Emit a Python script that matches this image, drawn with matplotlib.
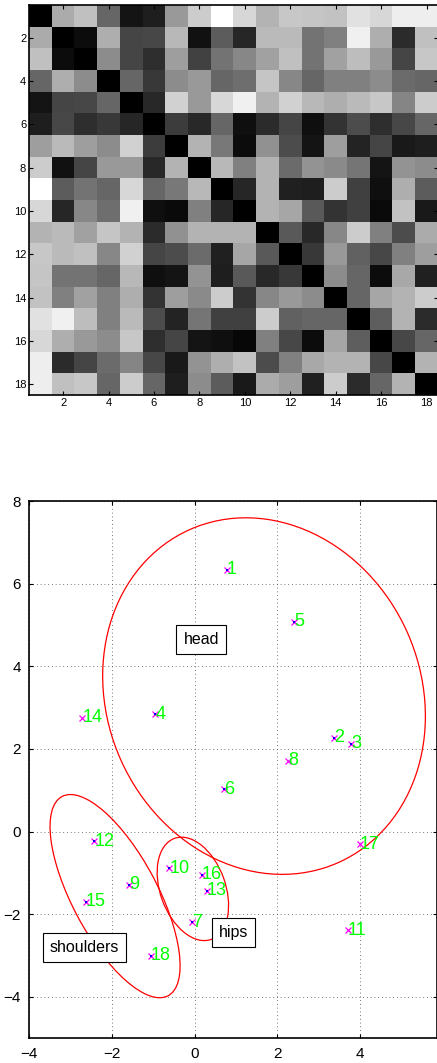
import numpy as np
import matplotlib
matplotlib.use('Agg')
import matplotlib.pyplot as plt
from matplotlib.patches import Ellipse

plt.rcParams['font.family'] = ['Liberation Sans', 'DejaVu Sans']

# dissimilarity matrix (gray levels, 0 = black)
D = [
    [0, .67, .75, .40, .08, .12, .60, .80, 1.0, .84, .70, .78, .77, .76, .88, .84, .93, .93],
    [.67, 0, .05, .68, .27, .28, .72, .07, .36, .15, .73, .73, .45, .50, .94, .68, .17, .75],
    [.75, .05, 0, .55, .27, .18, .62, .26, .45, .53, .63, .75, .45, .63, .74, .60, .27, .78],
    [.40, .68, .55, 0, .40, .22, .55, .60, .40, .43, .77, .53, .40, .50, .50, .55, .42, .40],
    [.08, .27, .28, .40, 0, .16, .82, .60, .84, .94, .70, .82, .72, .68, .73, .78, .52, .80],
    [.12, .28, .18, .22, .15, 0, .24, .16, .40, .06, .17, .27, .06, .20, .30, .18, .28, .40],
    [.62, .73, .62, .55, .82, .24, 0, .70, .47, .05, .57, .30, .08, .62, .14, .27, .10, .12],
    [.80, .07, .27, .60, .60, .16, .70, 0, .72, .50, .70, .42, .58, .54, .46, .08, .58, .55],
    [1.0, .36, .45, .40, .84, .40, .47, .72, 0, .15, .70, .13, .12, .80, .25, .06, .68, .36],
    [.84, .15, .53, .43, .94, .06, .04, .50, .15, 0, .70, .65, .35, .20, .25, .04, .76, .10],
    [.70, .73, .63, .77, .70, .17, .57, .70, .70, .70, 0, .35, .16, .53, .80, .50, .30, .67],
    [.78, .73, .75, .53, .82, .27, .30, .42, .13, .65, .35, 0, .22, .60, .38, .28, .50, .62],
    [.77, .45, .45, .40, .72, .06, .08, .58, .12, .35, .16, .22, 0, .55, .40, .05, .66, .13],
    [.76, .50, .63, .50, .68, .20, .62, .54, .80, .20, .53, .60, .55, 0, .40, .65, .70, .80],
    [.88, .94, .74, .50, .73, .30, .14, .46, .25, .25, .80, .38, .40, .40, 0, .37, .70, .17],
    [.84, .68, .60, .55, .78, .18, .27, .08, .06, .03, .50, .28, .05, .65, .37, 0, .28, .40],
    [.93, .17, .27, .42, .52, .28, .10, .58, .68, .76, .30, .50, .66, .70, .70, .28, 0, .70],
    [.93, .75, .78, .40, .80, .40, .12, .55, .36, .10, .67, .62, .13, .80, .17, .40, .70, 0],
]

# embedded points
xs = [0.78, 3.38, 3.78, -0.95, 2.40, 0.72, -0.05, 2.27, -1.58, -0.61, 3.70, -2.42, 0.29, -2.71, -2.62, 0.18, 4.00, -1.05]
ys = [6.34, 2.27, 2.13, 2.84, 5.08, 1.02, -2.19, 1.72, -1.28, -0.88, -2.39, -0.23, -1.43, 2.76, -1.70, -1.04, -0.30, -3.00]
blue_ids = [1, 2, 3, 4, 5, 6, 7, 9, 10, 12, 13, 15, 16, 18]

# cluster ellipses: center x, center y, width, height, angle
ell_cx = [1.68, -1.92, -0.04]
ell_cy = [3.28, -1.56, -1.385]
ell_w = [8.82, 5.46, 2.60]
ell_h = [7.58, 2.06, 1.575]
ell_ang = [-66, -62, -70]

labels = ['head', 'shoulders', 'hips']
lab_x = [0.16, -2.66, 0.94]
lab_y = [4.65, -2.81, -2.44]

fig = plt.figure(figsize=(4.37, 10.63), dpi=100)

# --- matrix image ---
ax1 = fig.add_axes([29 / 437, 1 - 395 / 1063, 409 / 437, 390 / 1063])
ax1.imshow(np.array(D), cmap='gray', vmin=0, vmax=1, aspect='auto',
           interpolation='nearest', extent=(0.5, 18.5, 18.5, 0.5))
ticks = list(range(2, 19, 2))
ax1.set_xticks(ticks)
ax1.set_yticks(ticks)
ax1.tick_params(direction='in', length=3, width=0.8, labelsize=8, pad=2,
                top=True, right=True)

# --- scatter plot ---
ax2 = fig.add_axes([29 / 437, 1 - 1038.3 / 1063, 408 / 437, 537.3 / 1063])
for i, e in enumerate(ell_cx):
    ax2.add_patch(Ellipse((ell_cx[i], ell_cy[i]), ell_w[i], ell_h[i], angle=ell_ang[i],
                          fill=False, edgecolor='red', lw=0.9, zorder=3))
ax2.plot(xs, ys, 'x', color='magenta', ms=5, mew=0.9, zorder=4)
ax2.plot([xs[i - 1] for i in blue_ids], [ys[i - 1] for i in blue_ids], 's',
         color='blue', ms=2, mew=0, zorder=5)
for i in range(len(xs)):
    ax2.text(xs[i], ys[i], str(i + 1), color='#00ff00', fontsize=13,
             ha='left', va='center', zorder=6)
for i, t in enumerate(labels):
    ax2.text(lab_x[i], lab_y[i], t, fontsize=11.5, ha='center', va='center', zorder=7,
             bbox=dict(boxstyle='square,pad=0.45', fc='white', ec='black', lw=0.8))

ax2.set_xlim(-4, 5.86)
ax2.set_ylim(-5, 8)
ax2.set_xticks([-4, -2, 0, 2, 4])
ax2.set_yticks([-4, -2, 0, 2, 4, 6, 8])
ax2.grid(True, color='0.3', linestyle=(0, (1, 3.5)), lw=0.6)
ax2.set_axisbelow(True)
ax2.tick_params(direction='in', length=3, width=0.8, labelsize=11, pad=6,
                top=True, right=True)

for ax in (ax1, ax2):
    for s in ax.spines.values():
        s.set_linewidth(1.2)

fig.savefig('out.png', dpi=100)
